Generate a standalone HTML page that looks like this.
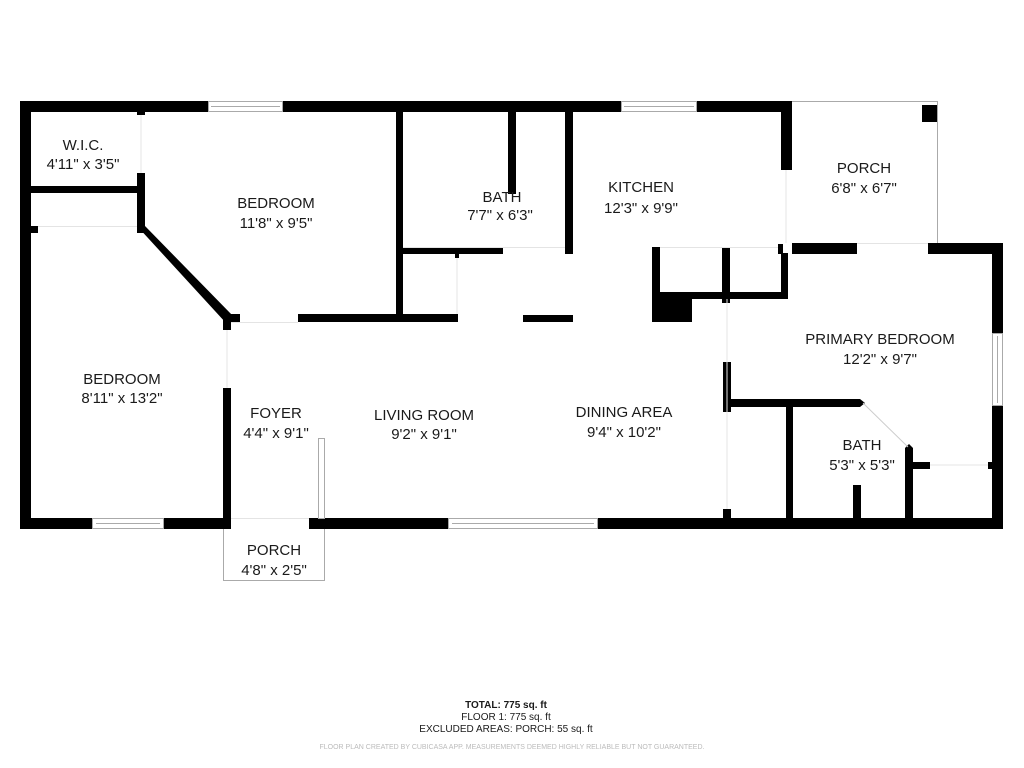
<!DOCTYPE html>
<html><head><meta charset="utf-8"><style>
html,body{margin:0;padding:0;background:#fff;}
svg{display:block;}
text{font-family:"Liberation Sans",Arial,sans-serif;fill:#1a1a1a;}
</style></head><body>
<svg width="1024" height="768" viewBox="0 0 1024 768" xmlns="http://www.w3.org/2000/svg">
<g fill="#000">
<!-- outer top wall -->
<rect x="20" y="101" width="188" height="11"/>
<rect x="282" y="101" width="339" height="11"/>
<rect x="696" y="101" width="96" height="11"/>
<!-- left wall -->
<rect x="20" y="101" width="11" height="428"/>
<!-- bottom wall -->
<rect x="20" y="518" width="72" height="11"/>
<rect x="163" y="518" width="68" height="11"/>
<rect x="309" y="518" width="139" height="11"/>
<rect x="597" y="518" width="406" height="11"/>
<!-- right side -->
<rect x="781" y="101" width="11" height="69"/>
<rect x="792" y="243" width="65" height="11"/>
<rect x="928" y="243" width="75" height="11"/>
<rect x="992" y="243" width="11" height="90"/>
<rect x="992" y="405" width="11" height="124"/>
<!-- WIC -->
<rect x="31" y="186" width="107" height="7"/>
<rect x="137" y="112" width="8" height="3"/>
<rect x="137" y="173" width="8" height="60"/>
<rect x="31" y="226" width="7" height="7"/>
<!-- diagonal wall -->
<polygon points="137,226 145,226 233,316 226,323"/>
<rect x="223" y="314" width="17" height="8"/>
<rect x="223" y="314" width="8" height="16"/>
<!-- bedroom/bath vertical -->
<rect x="396" y="112" width="7" height="210"/>
<rect x="298" y="314" width="160" height="8"/>
<rect x="403" y="247" width="100" height="7"/>
<rect x="455" y="254" width="4" height="4"/>
<rect x="508" y="112" width="8" height="82"/>
<rect x="565" y="112" width="8" height="142"/>
<rect x="523" y="315" width="50" height="7"/>
<!-- kitchen counter -->
<rect x="652" y="247" width="8" height="75"/>
<rect x="652" y="292" width="136" height="7"/>
<rect x="652" y="292" width="40" height="30"/>
<rect x="722" y="247" width="8" height="56"/>
<rect x="781" y="253" width="7" height="46"/>
<rect x="778" y="244" width="5" height="10"/>
<!-- bedroom left/front -->
<rect x="223" y="388" width="8" height="141"/>
<rect x="723" y="362" width="8" height="50"/>
<rect x="723" y="509" width="8" height="10"/>
<polygon points="731,399 860,399 865,403 860,407 731,407"/>
<rect x="786" y="407" width="7" height="111"/>
<polygon points="905,448 909,444 913,448 913,518 905,518"/>
<rect x="913" y="462" width="17" height="7"/>
<rect x="988" y="462" width="5" height="7"/>
<rect x="853" y="485" width="8" height="33"/>
<rect x="922" y="105" width="15" height="17"/>
</g>
<g fill="none" stroke="#aaa" stroke-width="1">
<!-- windows -->
<rect x="208.5" y="101.5" width="74" height="10"/><line x1="211" y1="106.5" x2="280" y2="106.5"/>
<rect x="621.5" y="101.5" width="75" height="10"/><line x1="624" y1="106.5" x2="694" y2="106.5"/>
<rect x="92.5" y="518.5" width="71" height="10"/><line x1="96" y1="523.5" x2="160" y2="523.5"/>
<rect x="448.5" y="518.5" width="149" height="10"/><line x1="452" y1="523.5" x2="594" y2="523.5"/>
<rect x="992.5" y="333.5" width="10" height="72"/><line x1="997.5" y1="336" x2="997.5" y2="403"/>
<rect x="318.5" y="438.5" width="6" height="80"/>
<!-- porches -->
<polyline points="792,101.5 937.5,101.5 937.5,243"/>
<polyline points="223.5,529 223.5,580.5 324.5,580.5 324.5,529"/>
<line x1="863" y1="403" x2="908" y2="447" stroke="#ccc"/>
</g>
<g fill="none" stroke="#e4e4e4" stroke-width="1">
<line x1="38" y1="226.5" x2="137" y2="226.5"/>
<line x1="141" y1="115" x2="141" y2="173"/>
<line x1="231" y1="322.5" x2="298" y2="322.5"/>
<line x1="227" y1="330" x2="227" y2="388"/>
<line x1="727" y1="299" x2="727" y2="509"/>
<line x1="930" y1="465" x2="988" y2="465"/>
<line x1="231" y1="518.5" x2="309" y2="518.5"/>
<line x1="857" y1="243.5" x2="928" y2="243.5"/>
<line x1="786" y1="170" x2="786" y2="243"/>
<line x1="660" y1="247.5" x2="778" y2="247.5"/>
<line x1="457" y1="258" x2="457" y2="314"/>
<line x1="403" y1="247.5" x2="565" y2="247.5"/>
</g>
<g font-size="15" text-anchor="middle">
<text x="83" y="150">W.I.C.</text><text x="83" y="169">4'11" x 3'5"</text>
<text x="276" y="208">BEDROOM</text><text x="276" y="228">11'8" x 9'5"</text>
<text x="502" y="202">BATH</text><text x="500" y="220">7'7" x 6'3"</text>
<text x="641" y="192">KITCHEN</text><text x="641" y="213">12'3" x 9'9"</text>
<text x="864" y="173">PORCH</text><text x="864" y="193">6'8" x 6'7"</text>
<text x="122" y="384">BEDROOM</text><text x="122" y="403">8'11" x 13'2"</text>
<text x="276" y="418">FOYER</text><text x="276" y="438">4'4" x 9'1"</text>
<text x="424" y="420">LIVING ROOM</text><text x="424" y="439">9'2" x 9'1"</text>
<text x="624" y="417">DINING AREA</text><text x="624" y="437">9'4" x 10'2"</text>
<text x="880" y="344">PRIMARY BEDROOM</text><text x="880" y="364">12'2" x 9'7"</text>
<text x="862" y="450">BATH</text><text x="862" y="470">5'3" x 5'3"</text>
<text x="274" y="555">PORCH</text><text x="274" y="575">4'8" x 2'5"</text>
</g>
<g text-anchor="middle" font-size="10">
<text x="506" y="708" font-weight="bold">TOTAL: 775 sq. ft</text>
<text x="506" y="720">FLOOR 1: 775 sq. ft</text>
<text x="506" y="732">EXCLUDED AREAS: PORCH: 55 sq. ft</text>
<text x="512" y="749" font-size="7" style="fill:#bbb">FLOOR PLAN CREATED BY CUBICASA APP. MEASUREMENTS DEEMED HIGHLY RELIABLE BUT NOT GUARANTEED.</text>
</g>
</svg>
</body></html>
